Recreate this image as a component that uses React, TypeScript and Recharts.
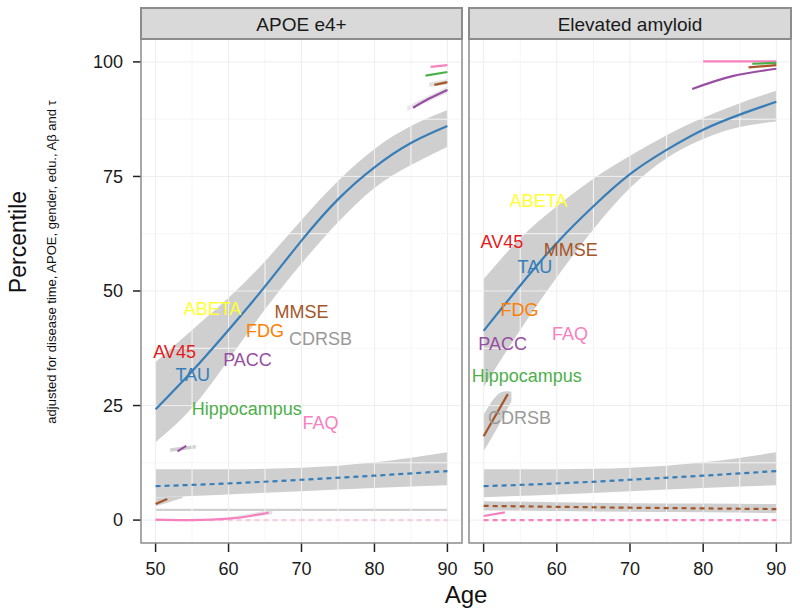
import React from "react";
import { ComposedChart, Line, Area, Scatter, XAxis, YAxis, ReferenceLine } from "recharts";

// ---- data ----
const ages = [50, 55, 60, 65, 70, 75, 80, 85, 90];
const dashAges = [50, 60, 70, 80, 90];

// APOE e4+ panel
const apoeTau = [24.2, 32.5, 41.5, 51, 61, 70, 77, 82.3, 86];
const apoeTauLow = [17, 24.5, 35, 46, 56, 65, 72.5, 77.5, 81.5];
const apoeTauHigh = [34.5, 41.5, 48.5, 56.5, 65.5, 74, 81, 86, 89.5];

// Elevated amyloid panel
const amyTau = [41.3, 51.2, 60.5, 68.5, 75.5, 80.8, 85.2, 88.5, 91.3];
const amyTauLow = [29, 41.5, 53, 63.5, 72.5, 79, 83.2, 85.8, 87];
const amyTauHigh = [52.6, 61.5, 68.5, 74.5, 79.5, 84, 87.8, 91, 93.7];

// dashed reference curves (both panels)
const tauDash = [7.4, 8.0, 8.8, 9.7, 10.7];
const tauDashLow = [5.0, 5.6, 6.3, 7.0, 7.6];
const tauDashHigh = [11.1, 11.1, 11.4, 12.6, 14.8];
const mmseDash = [3.1, 2.9, 2.7, 2.55, 2.4];
const mmseDashLow = [2.1, 2.0, 1.8, 1.7, 1.5];
const mmseDashHigh = [4.1, 3.9, 3.7, 3.6, 3.5];
const faqDash = [0, 0, 0, 0, 0];
const floorLow = [2.0, 2.0, 2.0, 2.0, 2.0];
const floorHigh = [2.45, 2.45, 2.45, 2.45, 2.45];

// short fragments, APOE e4+
const aFaqAges = [50, 55, 60, 63, 65.5];
const aFaq = [0.1, 0.0, 0.3, 0.9, 1.6];
const aFaqBandAges = [60, 63, 66];
const aFaqBandLow = [0.3, 0.7, 1.3];
const aFaqBandHigh = [0.6, 1.4, 2.3];
const aMmseAges = [50, 51.6];
const aMmse = [3.5, 4.6];
const aMmseBandAges = [50, 53.7];
const aMmseBandLow = [3.0, 4.8];
const aMmseBandHigh = [4.9, 5.2];
const aPaccAges = [53, 54.2];
const aPacc = [15, 16.2];
const aPaccBandAges = [52, 55.5];
const aPaccBandLow = [14.9, 15.6];
const aPaccBandHigh = [15.7, 16.4];
const aTopPinkAges = [87.7, 90];
const aTopPink = [98.9, 99.3];
const aTopGreenAges = [87, 90];
const aTopGreen = [97, 97.8];
const aTopBrownAges = [88.2, 90];
const aTopBrown = [95, 95.6];
const aTopBrownBandAges = [87.5, 90];
const aTopBrownBandLow = [94.6, 95];
const aTopBrownBandHigh = [95.5, 96.2];
const aTopPurpleAges = [85.3, 87.5, 90];
const aTopPurple = [90, 92, 93.9];
const aTopPurpleBandAges = [84.5, 90];
const aTopPurpleBandLow = [89.3, 93.2];
const aTopPurpleBandHigh = [90.3, 94.6];

// short fragments, Elevated amyloid
const eTopPurpleAges = [78.5, 84, 90];
const eTopPurple = [94.1, 96.9, 98.5];
const eTopPinkAges = [80, 90];
const eTopPink = [100.1, 100.1];
const eTopBrownAges = [86.2, 90];
const eTopBrown = [98.8, 99.3];
const eTopGreenAges = [86.7, 90];
const eTopGreen = [99.6, 99.8];
const eCdrAges = [50, 53.3];
const eCdr = [18.3, 27.5];
const eCdrBandAges = [50, 52, 53.8];
const eCdrBandLow = [15, 20.5, 26];
const eCdrBandHigh = [23, 27.5, 28];
const eFaqAges = [50, 52.9];
const eFaq = [0.9, 1.7];

// text labels
const markers = ["ABETA", "AV45", "TAU", "MMSE", "FDG", "CDRSB", "PACC", "Hippocampus", "FAQ"];
const markerColors = ["#FFFF33", "#E41A1C", "#377EB8", "#A65628", "#FF7F00", "#999999", "#984EA3", "#4DAF4A", "#F781BF"];
const apoeLabelX = [57.8, 52.6, 55.1, 70, 65, 72.6, 62.6, 62.5, 72.6];
const apoeLabelY = [46.1, 36.7, 31.7, 45.4, 41.3, 39.5, 35, 24.2, 21.2];
const amyLabelX = [57.5, 52.5, 57, 61.9, 54.9, 54.9, 52.6, 55.9, 61.8];
const amyLabelY = [69.7, 60.7, 55.2, 59, 45.9, 22.3, 38.4, 31.4, 40.6];

const xTicks = [50, 60, 70, 80, 90];
const xMinor = [55, 65, 75, 85];
const yTicks = [0, 25, 50, 75, 100];
const yMinor = [12.5, 37.5, 62.5, 87.5];

const BLUE = "#377EB8";
const BROWN = "#A65628";
const PINK = "#F781BF";
const PURPLE = "#984EA3";
const GREEN = "#4DAF4A";
const RIBBON = "#cfcfcf";
const font = "'Liberation Sans', Arial, Helvetica, sans-serif";

const pts = (xs: number[], ys: number[]) => xs.map((age, i) => ({ age, val: ys[i] }));
const band = (xs: number[], lo: number[], hi: number[]) =>
    xs.map((age, i) => ({ age, band: [lo[i], hi[i]] }));
const labelRows = (xs: number[], ys: number[]) =>
    markers.map((name, i) => ({ age: xs[i], val: ys[i], name, color: markerColors[i] }));

type Rib = { data: any[]; opacity?: number };
type Ln = { data: any[]; color: string; dashed?: boolean; width?: number; opacity?: number };

const apoeRibbons: Rib[] = [
    { data: band(ages, apoeTauLow, apoeTauHigh) },
    { data: band(dashAges, tauDashLow, tauDashHigh) },
    { data: band(dashAges, floorLow, floorHigh) },
    { data: band(aFaqBandAges, aFaqBandLow, aFaqBandHigh), opacity: 0.6 },
    { data: band(aMmseBandAges, aMmseBandLow, aMmseBandHigh) },
    { data: band(aPaccBandAges, aPaccBandLow, aPaccBandHigh) },
    { data: band(aTopBrownBandAges, aTopBrownBandLow, aTopBrownBandHigh), opacity: 0.6 },
    { data: band(aTopPurpleBandAges, aTopPurpleBandLow, aTopPurpleBandHigh), opacity: 0.5 },
];
const apoeLines: Ln[] = [
    { data: pts(dashAges, faqDash), color: PINK, dashed: true, opacity: 0.35 },
    { data: pts(dashAges, tauDash), color: BLUE, dashed: true },
    { data: pts(ages, apoeTau), color: BLUE },
    { data: pts(aFaqAges, aFaq), color: PINK },
    { data: pts(aMmseAges, aMmse), color: BROWN },
    { data: pts(aPaccAges, aPacc), color: PURPLE },
    { data: pts(aTopPinkAges, aTopPink), color: PINK },
    { data: pts(aTopGreenAges, aTopGreen), color: GREEN },
    { data: pts(aTopBrownAges, aTopBrown), color: BROWN },
    { data: pts(aTopPurpleAges, aTopPurple), color: PURPLE },
];

const amyRibbons: Rib[] = [
    { data: band(ages, amyTauLow, amyTauHigh) },
    { data: band(dashAges, tauDashLow, tauDashHigh) },
    { data: band(dashAges, mmseDashLow, mmseDashHigh) },
    { data: band(eCdrBandAges, eCdrBandLow, eCdrBandHigh) },
];
const amyLines: Ln[] = [
    { data: pts(dashAges, faqDash), color: PINK, dashed: true },
    { data: pts(dashAges, mmseDash), color: BROWN, dashed: true },
    { data: pts(dashAges, tauDash), color: BLUE, dashed: true },
    { data: pts(ages, amyTau), color: BLUE },
    { data: pts(eCdrAges, eCdr), color: BROWN },
    { data: pts(eFaqAges, eFaq), color: PINK },
    { data: pts(eTopPinkAges, eTopPink), color: PINK },
    { data: pts(eTopGreenAges, eTopGreen), color: GREEN },
    { data: pts(eTopBrownAges, eTopBrown), color: BROWN },
    { data: pts(eTopPurpleAges, eTopPurple), color: PURPLE },
];

const LabelText = (props: any) => {
    const { cx, cy, payload } = props;
    return (
        <text x={cx} y={cy} textAnchor="middle" dominantBaseline="central"
            fontSize={18} fontFamily={font} fill={payload.color}>
            {payload.name}
        </text>
    );
};

function Panel({ left, width, margin, showY, ribbons, lines, labels }: any) {
    return (
        <div style={{ position: "absolute", left, top: 0 }}>
            <ComposedChart width={width} height={615} margin={margin}>
                {xMinor.map((v) => <ReferenceLine key={"xm" + v} x={v} stroke="#f6f6f6" strokeWidth={1} />)}
                {yMinor.map((v) => <ReferenceLine key={"ym" + v} y={v} stroke="#f6f6f6" strokeWidth={1} />)}
                {xTicks.map((v) => <ReferenceLine key={"x" + v} x={v} stroke="#eeeeee" strokeWidth={1} />)}
                {yTicks.map((v) => <ReferenceLine key={"y" + v} y={v} stroke="#eeeeee" strokeWidth={1} />)}
                <XAxis type="number" dataKey="age" domain={[48, 92]} ticks={xTicks} allowDataOverflow
                    axisLine={false} tickSize={9} tickMargin={10} height={40}
                    tickLine={{ stroke: "#222", strokeWidth: 1.5 }}
                    tick={{ fontSize: 18, fill: "#1a1a1a", fontFamily: font }} />
                <YAxis type="number" domain={[-5, 105]} ticks={yTicks} allowDataOverflow hide={!showY}
                    axisLine={false} tickSize={8} tickMargin={10} width={60}
                    tickLine={{ stroke: "#222", strokeWidth: 1.5 }}
                    tick={{ fontSize: 18, fill: "#1a1a1a", fontFamily: font }} />
                {ribbons.map((r: Rib, i: number) => (
                    <Area key={"r" + i} data={r.data} dataKey="band" type="natural" stroke="none"
                        fill={RIBBON} fillOpacity={r.opacity ?? 1} isAnimationActive={false} activeDot={false} />
                ))}
                {lines.map((l: Ln, i: number) => (
                    <Line key={"l" + i} data={l.data} dataKey="val" type="natural" stroke={l.color}
                        strokeWidth={l.width ?? 2.2} strokeOpacity={l.opacity ?? 1}
                        strokeDasharray={l.dashed ? "5 4" : undefined}
                        dot={false} activeDot={false} isAnimationActive={false} />
                ))}
                <Scatter data={labels} dataKey="val" shape={LabelText} isAnimationActive={false} />
            </ComposedChart>
        </div>
    );
}

export default function App() {
    return (
        <div style={{ position: "absolute", left: 0, top: 0, width: 800, height: 615, background: "#fff", fontFamily: font }}>
            <Panel left={0} width={470} margin={{ top: 39, right: 8, bottom: 32, left: 81 }} showY
                ribbons={apoeRibbons} lines={apoeLines} labels={labelRows(apoeLabelX, apoeLabelY)} />
            <Panel left={465} width={335} margin={{ top: 39, right: 9, bottom: 32, left: 4 }} showY={false}
                ribbons={amyRibbons} lines={amyLines} labels={labelRows(amyLabelX, amyLabelY)} />
            <svg width={800} height={615} style={{ position: "absolute", left: 0, top: 0, pointerEvents: "none" }}>
                <rect x={141} y={39} width={321} height={504} fill="none" stroke="#8c8c8c" strokeWidth={1.5} />
                <rect x={469} y={39} width={322} height={504} fill="none" stroke="#8c8c8c" strokeWidth={1.5} />
                <rect x={141} y={8} width={321} height={31} fill="#D9D9D9" stroke="#8c8c8c" strokeWidth={2} />
                <rect x={469} y={8} width={322} height={31} fill="#D9D9D9" stroke="#8c8c8c" strokeWidth={2} />
                <text x={301.5} y={24} textAnchor="middle" dominantBaseline="central" fontSize={19} fill="#1a1a1a" fontFamily={font}>APOE e4+</text>
                <text x={630} y={24} textAnchor="middle" dominantBaseline="central" fontSize={19} fill="#1a1a1a" fontFamily={font}>Elevated amyloid</text>
                <text x={466} y={594} textAnchor="middle" dominantBaseline="central" fontSize={24} fill="#111" fontFamily={font}>Age</text>
                <text transform="translate(18,242) rotate(-90)" textAnchor="middle" dominantBaseline="central" fontSize={23} fill="#111" fontFamily={font}>Percentile</text>
                <text transform="translate(51,262) rotate(-90)" textAnchor="middle" dominantBaseline="central" fontSize={13} fill="#111" fontFamily={font}>adjusted for disease time, APOE, gender, edu., Aβ and τ</text>
            </svg>
        </div>
    );
}
